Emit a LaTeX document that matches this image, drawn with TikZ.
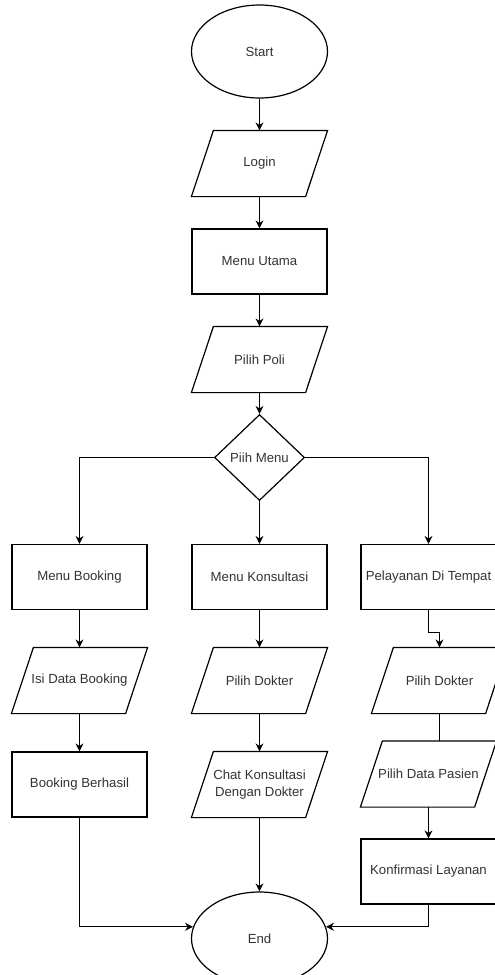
\documentclass[tikz,border=0pt]{standalone}
\usepackage{fontspec}
\setmainfont{Liberation Sans}
\usetikzlibrary{shapes.geometric, positioning, arrows.meta}
\tikzset{
    ->,
    >={Stealth[length=8pt, width=8pt]},
    node distance = 98pt,
    every node/.style={font=\fontsize{13.2pt}{17pt}\selectfont, text=black!80},
    terminal/.style={ellipse, draw, minimum width=136pt, minimum height=93pt},
    process/.style={rectangle, draw, minimum width=135pt, minimum height=65pt},
    io/.style={rectangle, minimum width=135pt, minimum height=65pt},
    choice/.style={diamond, draw, inner sep=0pt, minimum width=90pt, minimum height=86pt}
}

\begin{document}
\begin{tikzpicture}[line width=1.2pt]
    % tikz code goes here
    \path[use as bounding box, clip] (0,0) rectangle (495pt,-975pt);
        \node[terminal] (start) at (259.5pt,-51.5pt) {Start};
        \node[io, node distance=112pt, below of=start] (login) {Login};
        \node[process, below of=login] (utama) {Menu Utama};
        \node[io, below of=utama] (poli) {Pilih Poli};
        \node[choice, below of=poli] (menu) {Piih Menu};
        \node[process, node distance=119.5pt, below of=menu] (konsul) {Menu Konsultasi};
        \node[process, node distance=180pt, left of=konsul] (booking) {Menu Booking};
        \node[process, node distance=169pt, right of=konsul] (pelayanan) {Pelayanan Di Tempat};
        \node[io, node distance=103.5pt, below of=booking] (isidata) {Isi Data Booking};
        \node[io, node distance=103.5pt, below of=konsul] (dokter1) {Pilih Dokter};
        \node[io, node distance=103.5pt, below of=pelayanan, xshift=11pt] (dokter2) {Pilih Dokter};
        \node[process, node distance=104pt, below of=isidata] (berhasil) {Booking Berhasil};
        \node[io, node distance=104pt, below of=dokter1, align=center] (chat) {Chat Konsultasi\\Dengan Dokter};
        \node[io, node distance=197pt, below of=pelayanan] (pasien) {Pilih Data Pasien};
        \node[process, node distance=97.5pt, below of=pasien] (konfirm) {Konfirmasi Layanan};
        \node[terminal, node distance=154pt, below of=chat] (end) {End};
        % slanted outline of the input/output boxes
        \foreach \n in {login, poli, isidata, dokter1, dokter2, chat, pasien}
            \draw[-] ([xshift=22pt]\n.north west) -- (\n.north east)
                -- ([xshift=-22pt]\n.south east) -- (\n.south west) -- cycle;
        \draw
            (start) edge (login)
            (login) edge (utama)
            (utama) edge (poli)
            (poli) edge (menu)
            (menu) edge (konsul)
            (booking) edge (isidata)
            (isidata) edge (berhasil)
            (konsul) edge (dokter1)
            (dokter1) edge (chat)
            (pasien) edge (konfirm)
            (chat) edge (end);
        \draw (menu.west) -| (booking.north);
        \draw (menu.east) -| (pelayanan.north);
        \draw (pelayanan.south) -- ++(0,-22pt) -| (dokter2.north);
        \draw[-] (dokter2.south) -- (dokter2.south |- pasien.north);
        \draw (berhasil.south) |- (end.170);
        \draw (konfirm.south) |- (end.10);
    \end{tikzpicture}
\end{document}
